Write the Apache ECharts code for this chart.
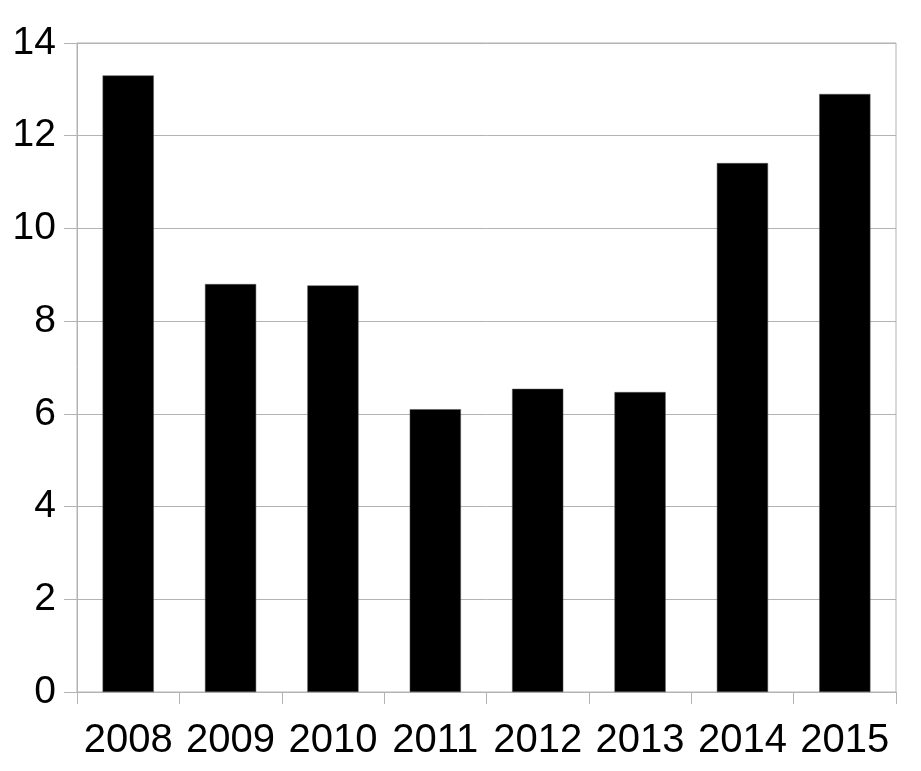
<!DOCTYPE html>
<html>
<head>
<meta charset="utf-8">
<script src="https://cdn.jsdelivr.net/npm/echarts@6/dist/echarts.min.js"></script>
<style>
html,body{margin:0;padding:0;background:#fff;}
#chart{width:921px;height:771px;}
</style>
</head>
<body>
<div id="chart"></div>
<script>
const categories = ['2008','2009','2010','2011','2012','2013','2014','2015'];
const values = [13.3, 8.8, 8.77, 6.1, 6.54, 6.47, 11.41, 12.9];
const yMin = 0, yMax = 14, yInterval = 2;

const chart = echarts.init(document.getElementById('chart'));
chart.setOption({
  animation: false,
  grid: {left: 77, right: 25, top: 43, bottom: 79, show: true, borderColor: '#b3b3b3', borderWidth: 1, containLabel: false},
  xAxis: {
    type: 'category',
    data: categories,
    boundaryGap: true,
    axisLine: {show: true, lineStyle: {color: '#b3b3b3', width: 1}},
    axisTick: {show: true, alignWithLabel: false, length: 12, lineStyle: {color: '#b3b3b3'}},
    axisLabel: {color: '#000', fontFamily: 'Liberation Sans', fontSize: 40, margin: 29, interval: 0, hideOverlap: false}
  },
  yAxis: {
    type: 'value',
    min: yMin, max: yMax, interval: yInterval,
    axisLine: {show: true, lineStyle: {color: '#b3b3b3', width: 1}},
    axisTick: {show: true, length: 13, lineStyle: {color: '#b3b3b3'}},
    splitLine: {show: true, lineStyle: {color: '#b3b3b3', width: 1}},
    axisLabel: {color: '#000', fontFamily: 'Liberation Sans', fontSize: 39, margin: 21}
  },
  series: [{
    type: 'bar',
    data: values,
    barWidth: '50%',
    itemStyle: {color: '#000', borderColor: '#555', borderWidth: 0.5}
  }]
});
</script>
</body>
</html>
